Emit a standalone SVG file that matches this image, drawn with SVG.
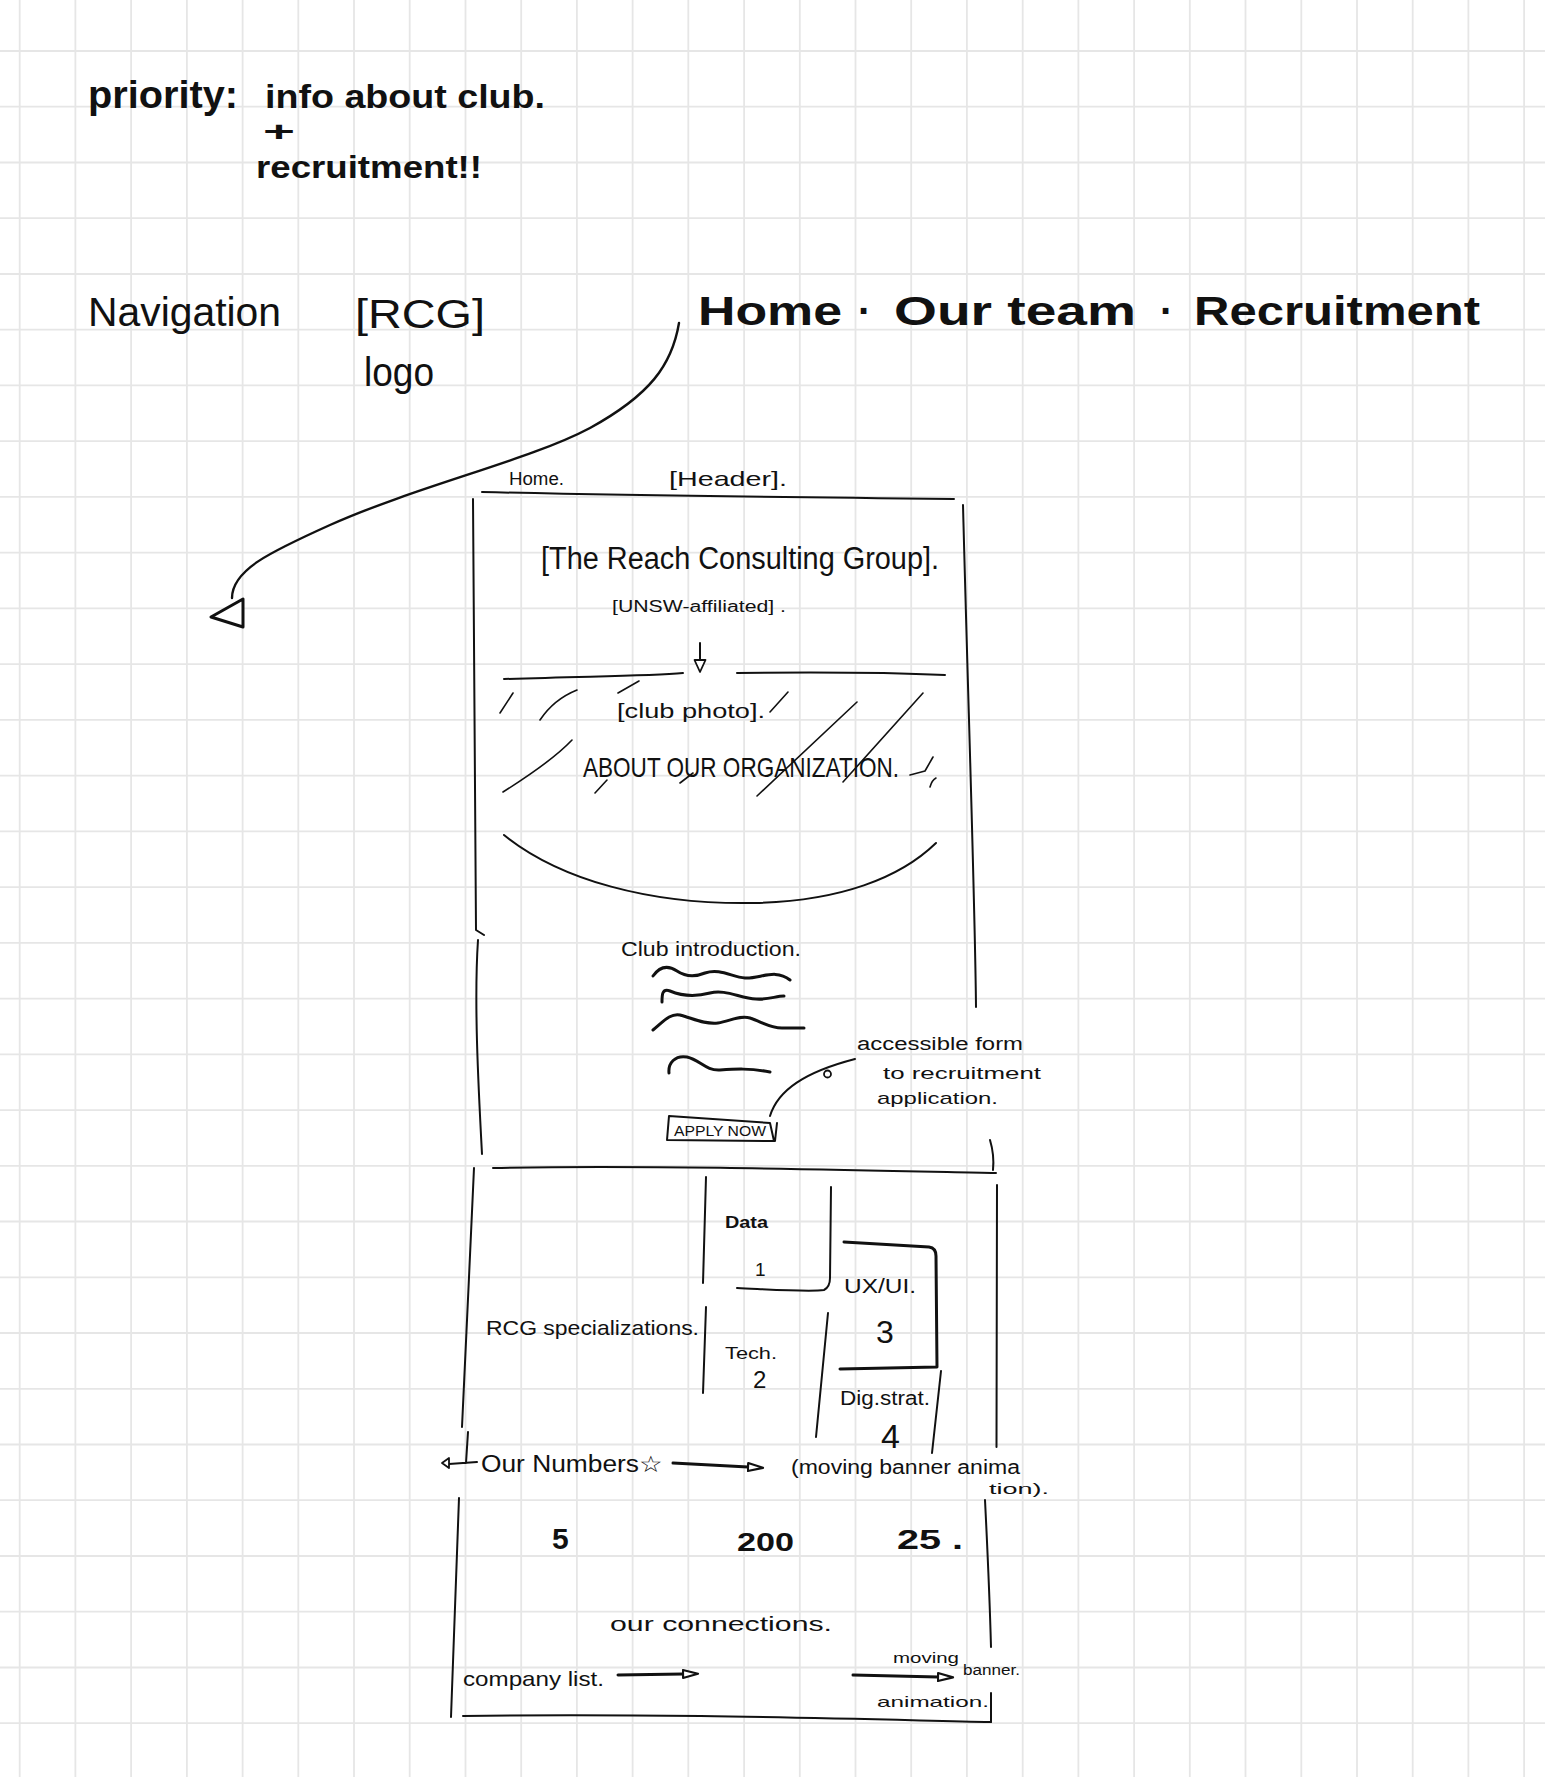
<svg xmlns="http://www.w3.org/2000/svg" width="1545" height="1777" viewBox="0 0 1545 1777">
<style>
.grid{fill:none;stroke:#e6e6e6;stroke-width:1.8}
.ln{fill:none;stroke:#111;stroke-width:2;stroke-linecap:round;stroke-linejoin:round}
.th{stroke-width:3}
.t{font-family:"Liberation Sans",Arial,sans-serif;fill:#111}
.b{font-weight:bold}
</style>
<defs>
<marker id="tri" markerUnits="userSpaceOnUse" markerWidth="18" markerHeight="12" viewBox="0 0 18 12" refX="1" refY="6" orient="auto">
<path d="M1,2 L16,6 L1,10 Z" fill="#fff" stroke="#111" stroke-width="2.2" stroke-linejoin="round"/>
</marker>
<marker id="tri-s" markerUnits="userSpaceOnUse" markerWidth="15" markerHeight="14" viewBox="0 0 15 14" refX="1" refY="7" orient="auto">
<path d="M1,1.5 L13,7 L1,12.5 Z" fill="#fff" stroke="#111" stroke-width="1.8" stroke-linejoin="round"/>
</marker>
</defs>
<rect width="1545" height="1777" fill="#fff"/>
<path class="grid" d="M19.7,0V1777M75.4,0V1777M131.1,0V1777M186.9,0V1777M242.6,0V1777M298.3,0V1777M354,0V1777M409.7,0V1777M465.5,0V1777M521.2,0V1777M576.9,0V1777M632.6,0V1777M688.3,0V1777M744.1,0V1777M799.8,0V1777M855.5,0V1777M911.2,0V1777M966.9,0V1777M1022.7,0V1777M1078.4,0V1777M1134.1,0V1777M1189.8,0V1777M1245.5,0V1777M1301.3,0V1777M1357,0V1777M1412.7,0V1777M1468.4,0V1777M1524.1,0V1777
M0,51H1545M0,106.7H1545M0,162.5H1545M0,218.2H1545M0,274H1545M0,329.7H1545M0,385.4H1545M0,441.2H1545M0,496.9H1545M0,552.7H1545M0,608.4H1545M0,664.1H1545M0,719.9H1545M0,775.6H1545M0,831.4H1545M0,887.1H1545M0,942.8H1545M0,998.6H1545M0,1054.3H1545M0,1110.1H1545M0,1165.8H1545M0,1221.5H1545M0,1277.3H1545M0,1333H1545M0,1388.8H1545M0,1444.5H1545M0,1500.2H1545M0,1556H1545M0,1611.7H1545M0,1667.5H1545M0,1723.2H1545"/>

<g id="priority-note">
<text class="t b" x="88" y="108" font-size="38" textLength="150" lengthAdjust="spacingAndGlyphs">priority:</text>
<text class="t b" x="265" y="108" font-size="34" textLength="280" lengthAdjust="spacingAndGlyphs">info about club.</text>
<text class="t b" x="263" y="141" font-size="28" textLength="32" lengthAdjust="spacingAndGlyphs">+</text>
<text class="t b" x="256" y="178" font-size="32" textLength="226" lengthAdjust="spacingAndGlyphs">recruitment!!</text>
</g>

<g id="navigation-label">
<text class="t" x="88" y="326" font-size="40" textLength="193" lengthAdjust="spacingAndGlyphs">Navigation</text>
</g>
<g id="logo">
<text class="t" x="355" y="328" font-size="40" textLength="130" lengthAdjust="spacingAndGlyphs">[RCG]</text>
<text class="t" x="364" y="386" font-size="40" textLength="70" lengthAdjust="spacingAndGlyphs">logo</text>
</g>
<g id="nav-links">
<text class="t b" y="325" font-size="40"><tspan x="698" textLength="144" lengthAdjust="spacingAndGlyphs">Home</tspan><tspan x="858">·</tspan><tspan x="894" textLength="242" lengthAdjust="spacingAndGlyphs">Our team</tspan><tspan x="1160">·</tspan><tspan x="1194" textLength="286" lengthAdjust="spacingAndGlyphs">Recruitment</tspan></text>
</g>

<g id="header">
<text class="t" x="509" y="485" font-size="18" textLength="55" lengthAdjust="spacingAndGlyphs">Home.</text>
<text class="t" x="669" y="486" font-size="21" textLength="118" lengthAdjust="spacingAndGlyphs">[Header].</text>
<path class="ln" d="M482,492 Q650,496 954,499"/>
</g>

<g id="hero-section">
<path class="ln" d="M473,499 C474,700 475,850 476,930 L484,935 M478,940 C474,1000 478,1080 482,1154"/>
<path class="ln" d="M963,505 C968,700 975,900 976,1007"/>
<path class="ln" d="M990,1140 C993,1150 994,1160 993,1170"/>
<path class="ln" d="M493,1168 C650,1165 850,1170 996,1173"/>
<text class="t" x="541" y="569" font-size="31" textLength="398" lengthAdjust="spacingAndGlyphs">[The Reach Consulting Group].</text>
<text class="t" x="612" y="612" font-size="16" textLength="174" lengthAdjust="spacingAndGlyphs">[UNSW-affiliated] .</text>
<path class="ln" d="M504,679 C600,676 650,676 683,673"/>
<path class="ln" d="M737,673 C820,672 900,673 945,675"/>
</g>

<g id="club-photo">
<text class="t" x="617" y="718" font-size="21" textLength="148" lengthAdjust="spacingAndGlyphs">[club photo].</text>
<text class="t" x="583" y="777" font-size="28" textLength="316" lengthAdjust="spacingAndGlyphs">ABOUT OUR ORGANIZATION.</text>
<path class="ln" style="stroke-width:1.6" d="M500,713 L513,693 M540,720 C550,705 562,696 577,690 M618,693 L639,681 M770,712 L788,692 M757,796 L857,702 M843,782 L923,693 M503,792 C530,775 555,758 572,740 M595,793 L607,780 M680,783 L693,773 M910,775 L925,771 L933,757 M930,787 Q932,780 936,778"/>
<path class="ln" d="M504,835 C560,880 650,905 755,903 C840,901 900,878 936,843"/>
</g>

<g id="club-intro">
<text class="t" x="621" y="956" font-size="20" textLength="180" lengthAdjust="spacingAndGlyphs">Club introduction.</text>
<path class="ln th" d="M653,976 C660,966 668,965 677,971 C686,977 695,977 705,973 C720,968 732,977 745,978 C760,979 775,968 790,980"/>
<path class="ln th" d="M662,1002 C662,995 662,988 670,991 C682,996 695,997 710,993 C725,989 740,998 756,999 C768,1000 776,996 784,996"/>
<path class="ln th" d="M653,1030 C663,1022 670,1013 680,1015 C692,1018 705,1025 718,1023 C730,1021 740,1015 750,1018 C762,1022 770,1028 782,1028 L804,1028"/>
<path class="ln th" d="M669,1073 C668,1063 675,1055 687,1057 C700,1060 706,1071 720,1070 C735,1069 750,1068 770,1072"/>
</g>

<g id="apply-button">
<path class="ln" d="M669,1116 L770,1123 L774,1141 L667,1140 Z M777,1123 L775,1141"/>
<text class="t" x="674" y="1136" font-size="14" textLength="92" lengthAdjust="spacingAndGlyphs">APPLY NOW</text>
</g>

<g id="apply-note">
<text class="t" x="857" y="1050" font-size="18" textLength="166" lengthAdjust="spacingAndGlyphs">accessible form</text>
<text class="t" x="883" y="1079" font-size="17" textLength="158" lengthAdjust="spacingAndGlyphs">to recruitment</text>
<text class="t" x="877" y="1104" font-size="17" textLength="121" lengthAdjust="spacingAndGlyphs">application.</text>
</g>

<g id="specializations">
<path class="ln" d="M474,1168 C470,1250 466,1350 462,1427"/>
<path class="ln" d="M997,1185 L996.5,1447"/>
<text class="t" x="486" y="1335" font-size="21" textLength="213" lengthAdjust="spacingAndGlyphs">RCG specializations.</text>
</g>
<g id="spec-data">
<path class="ln" d="M706,1177 L703,1283 M737,1288 C780,1290 810,1292 824,1290 Q830,1287 830,1278 L831,1187"/>
<text class="t b" x="725" y="1228" font-size="17" textLength="43" lengthAdjust="spacingAndGlyphs">Data</text>
<text class="t" x="755" y="1276" font-size="19">1</text>
</g>
<g id="spec-tech">
<path class="ln" d="M706,1307 L703,1393"/>
<text class="t" x="725" y="1359" font-size="17" textLength="52" lengthAdjust="spacingAndGlyphs">Tech.</text>
<text class="t" x="753" y="1388" font-size="24">2</text>
</g>
<g id="spec-uxui">
<path class="ln th" d="M844,1242 L929,1247 Q936,1248 936,1256 L937,1367 L840,1369"/>
<text class="t" x="844" y="1293" font-size="20" textLength="72" lengthAdjust="spacingAndGlyphs">UX/UI.</text>
<text class="t" x="876" y="1343" font-size="32">3</text>
</g>
<g id="spec-digstrat">
<path class="ln" d="M828,1313 L816,1437 M941,1371 L932,1453"/>
<text class="t" x="840" y="1405" font-size="20" textLength="90" lengthAdjust="spacingAndGlyphs">Dig.strat.</text>
<text class="t" x="881" y="1448" font-size="34">4</text>
</g>

<g id="our-numbers">
<text class="t" x="481" y="1472" font-size="23" textLength="182" lengthAdjust="spacingAndGlyphs">Our Numbers☆</text>
<text class="t" x="791" y="1474" font-size="20" textLength="229" lengthAdjust="spacingAndGlyphs">(moving banner anima</text>
<text class="t" x="989" y="1494" font-size="14" textLength="60" lengthAdjust="spacingAndGlyphs">tion).</text>
</g>

<g id="numbers-section">
<path class="ln" d="M459,1498 C455,1600 452,1680 451,1717"/>
<path class="ln" d="M985,1500 C988,1560 990,1610 991,1647 M991,1693 L991,1722"/>
<path class="ln" d="M463,1716 C650,1713 850,1719 991,1722"/>
<text class="t b" x="552" y="1549" font-size="30">5</text>
<text class="t b" x="737" y="1551" font-size="26" textLength="57" lengthAdjust="spacingAndGlyphs">200</text>
<text class="t b" x="897" y="1549" font-size="28" textLength="66" lengthAdjust="spacingAndGlyphs">25 .</text>
</g>

<g id="connections">
<text class="t" x="610" y="1631" font-size="21" textLength="222" lengthAdjust="spacingAndGlyphs">our connections.</text>
<text class="t" x="463" y="1686" font-size="21" textLength="141" lengthAdjust="spacingAndGlyphs">company list.</text>
<text class="t" x="893" y="1663" font-size="14" textLength="66" lengthAdjust="spacingAndGlyphs">moving</text>
<text class="t" x="963" y="1675" font-size="14" textLength="57" lengthAdjust="spacingAndGlyphs">banner.</text>
<text class="t" x="877" y="1707" font-size="15" textLength="112" lengthAdjust="spacingAndGlyphs">animation.</text>
</g>

<g id="connectors">
<path class="ln" style="stroke-width:2.4" d="M679,323 C672,365 650,395 590,428 C530,460 420,485 330,525 C270,552 232,570 232,598"/>
<polygon points="211,617 243,599 243,627" fill="#fff" stroke="#111" stroke-width="3" stroke-linejoin="round"/>
<path class="ln" d="M700,643 L700,660" marker-end="url(#tri-s)"/>
<path class="ln" d="M770,1116 C778,1090 805,1072 855,1059"/>
<circle cx="827.5" cy="1074" r="3.5" fill="#fff" stroke="#111" stroke-width="1.8"/>
<path class="ln" d="M468,1432 L466,1463 M477,1462 L449,1464"/>
<polygon points="442,1463 449,1458 449,1468" fill="#fff" stroke="#111" stroke-width="1.8" stroke-linejoin="round"/>
<path class="ln th" d="M673,1463 L748,1467" marker-end="url(#tri)"/>
<path class="ln th" d="M618,1675 L683,1674" marker-end="url(#tri)"/>
<path class="ln th" d="M853,1675 L938,1677" marker-end="url(#tri)"/>
</g>
</svg>
